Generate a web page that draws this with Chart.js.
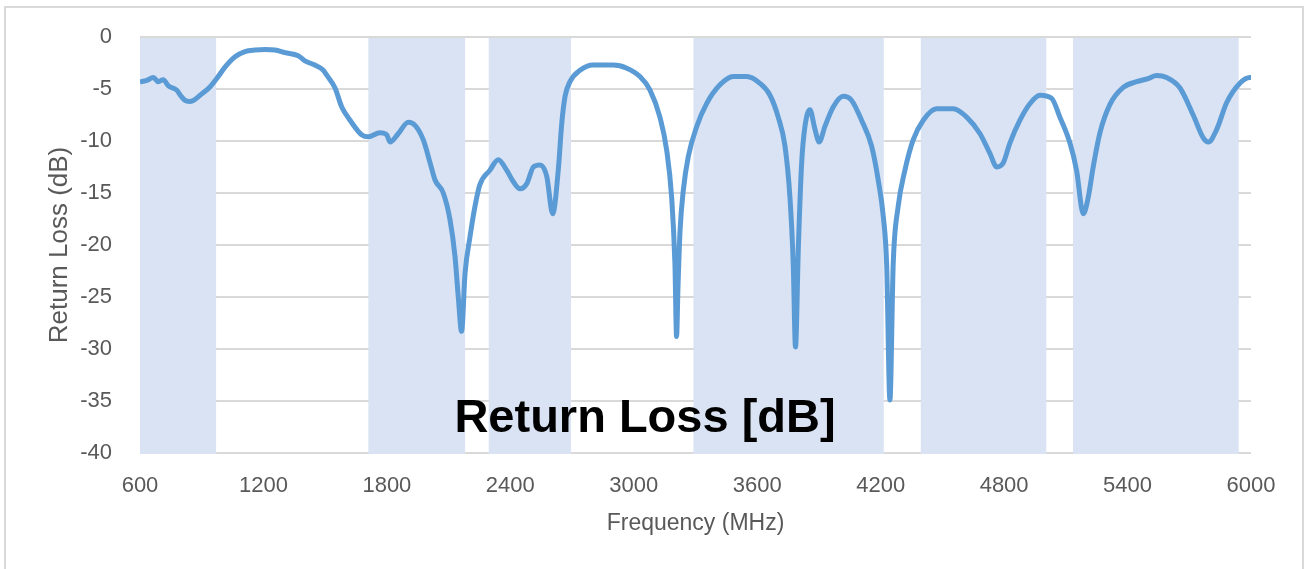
<!DOCTYPE html>
<html>
<head>
    <meta charset="utf-8">
    <script src="https://cdn.jsdelivr.net/npm/chart.js@4"></script>
    <style>
        body { margin: 0; background: #fff; }
    </style>
</head>
<body>
<canvas id="myChart" width="1308" height="569"></canvas>

<script>
    // frequency points (MHz) and return loss (dB)
    var freq = [600, 630, 665, 689, 713, 738, 778, 800, 819, 840, 859, 892, 940, 973, 1013, 1062, 1110, 1159, 1210, 1256,
        1305, 1369, 1402, 1450, 1491, 1507, 1548, 1580, 1621, 1677, 1710, 1766, 1799, 1815, 1855, 1904, 1937, 1977,
        2010, 2034, 2074, 2107, 2131, 2147, 2163, 2180, 2204, 2228, 2252, 2301, 2341, 2382, 2414, 2447, 2480, 2512,
        2544, 2577, 2606, 2633, 2650, 2666, 2690, 2739, 2803, 2901, 2966, 3030, 3079, 3127, 3160, 3184, 3200, 3208,
        3215, 3225, 3241, 3265, 3306, 3354, 3419, 3484, 3549, 3613, 3662, 3702, 3735, 3759, 3775, 3786, 3800, 3816,
        3832, 3856, 3881, 3901, 3929, 3970, 4018, 4059, 4107, 4156, 4188, 4213, 4229, 4245, 4261, 4285, 4318, 4358,
        4407, 4472, 4553, 4618, 4683, 4731, 4764, 4796, 4828, 4877, 4926, 4974, 5031, 5071, 5120, 5152, 5185, 5209,
        5233, 5266, 5314, 5379, 5444, 5500, 5541, 5590, 5655, 5719, 5768, 5793, 5833, 5882, 5946, 5995, 6000];
    var returnLoss = [-4.3, -4.2, -3.9, -4.3, -4.1, -4.7, -5.1, -5.7, -6.1, -6.2, -6.1, -5.6, -4.8, -4.0, -2.9, -1.9, -1.4, -1.25, -1.2, -1.25,
        -1.5, -1.8, -2.3, -2.7, -3.2, -3.65, -4.9, -6.7, -8.0, -9.4, -9.6, -9.2, -9.4, -10.1, -9.3, -8.2, -8.5, -9.9,
        -12.1, -13.75, -15.0, -17.6, -21.1, -25.0, -28.3, -22.7, -19.2, -16.3, -14.2, -12.8, -11.8, -12.8, -13.9, -14.6, -14.1, -12.5,
        -12.3, -13.4, -17.0, -12.8, -8.3, -5.7, -4.3, -3.2, -2.7, -2.7, -3.0, -3.8, -5.1, -7.7, -10.9, -15.4, -21.8, -28.8,
        -24.0, -18.6, -14.7, -11.5, -8.6, -6.4, -4.6, -3.8, -3.8, -4.45, -5.6, -7.7, -10.5, -15.4, -21.8, -29.8, -20.2, -12.1,
        -8.6, -7.0, -8.9, -10.1, -8.6, -6.7, -5.7, -6.1, -8.0, -10.5, -13.75, -17.3, -21.8, -34.9, -21.8, -16.3, -12.8, -9.9,
        -8.0, -6.9, -6.9, -7.7, -9.3, -11.2, -12.5, -12.1, -10.2, -8.0, -6.4, -5.6, -5.9, -7.7, -10.2, -12.8, -17.0, -15.4,
        -12.5, -9.2, -6.5, -4.85, -4.3, -4.0, -3.7, -3.9, -4.9, -7.5, -9.7, -10.1, -8.9, -6.3, -4.45, -3.9, -3.9];

    // shaded frequency bands (MHz)
    var bandStart = [600, 1710, 2295, 3290, 4395, 5135];
    var bandEnd = [970, 2180, 2695, 4215, 5005, 5940];

    var points = [];
    for (var i = 0; i < freq.length; i++) {
        points.push({x: freq[i], y: returnLoss[i]});
    }

    var bandsPlugin = {
        id: 'bands',
        beforeDraw: function (chart) {
            var ctx = chart.ctx;
            ctx.save();
            ctx.strokeStyle = '#d9d9d9';
            ctx.lineWidth = 2;
            ctx.strokeRect(5, 7, 1298, 620);
            ctx.restore();
        },
        beforeDatasetsDraw: function (chart) {
            var ctx = chart.ctx;
            var xs = chart.scales.x;
            var area = chart.chartArea;
            ctx.save();
            ctx.fillStyle = '#dae3f3';
            for (var i = 0; i < bandStart.length; i++) {
                var x0 = xs.getPixelForValue(bandStart[i]);
                var x1 = xs.getPixelForValue(bandEnd[i]);
                ctx.fillRect(x0, area.top + 1, x1 - x0, area.bottom - area.top);
            }
            ctx.restore();
        },
        afterDraw: function (chart) {
            var ctx = chart.ctx;
            ctx.save();
            ctx.fillStyle = '#000';
            ctx.font = 'bold 47px "Liberation Sans", Arial, sans-serif';
            ctx.textAlign = 'center';
            ctx.textBaseline = 'alphabetic';
            ctx.fillText('Return Loss [dB]', 645, 432);
            ctx.restore();
        }
    };

    var ctx = document.getElementById("myChart");
    var myChart = new Chart(ctx, {
        type: 'line',
        data: {
            datasets: [{
                data: points,
                borderColor: '#5b9bd5',
                borderWidth: 5,
                pointRadius: 0,
                fill: false,
                cubicInterpolationMode: 'monotone'
            }]
        },
        options: {
            responsive: false,
            animation: false,
            devicePixelRatio: 1,
            layout: {
                padding: {left: 0, top: 37, right: 57, bottom: 0}
            },
            plugins: {
                legend: {display: false},
                tooltip: {enabled: false}
            },
            scales: {
                x: {
                    type: 'linear',
                    min: 600,
                    max: 6000,
                    grid: {display: false},
                    border: {display: false},
                    ticks: {
                        stepSize: 600,
                        padding: 12,
                        color: '#595959',
                        font: {family: '"Liberation Sans", Arial, sans-serif', size: 22},
                        callback: function (value) { return String(value); }
                    },
                    title: {
                        display: true,
                        text: 'Frequency (MHz)',
                        color: '#595959',
                        padding: {top: 0, bottom: 32},
                        font: {family: '"Liberation Sans", Arial, sans-serif', size: 23}
                    },
                    afterFit: function (scale) {
                        scale.height = 116;
                        scale.paddingLeft = 0;
                        scale.paddingRight = 0;
                    }
                },
                y: {
                    min: -40,
                    max: 0,
                    grid: {color: '#d9d9d9', lineWidth: 2, drawTicks: false},
                    border: {display: false},
                    ticks: {
                        stepSize: 5,
                        padding: 28,
                        color: '#595959',
                        font: {family: '"Liberation Sans", Arial, sans-serif', size: 22}
                    },
                    title: {
                        display: true,
                        text: 'Return Loss (dB)',
                        color: '#595959',
                        padding: {top: 44, bottom: 0},
                        font: {family: '"Liberation Sans", Arial, sans-serif', size: 26}
                    },
                    afterFit: function (scale) {
                        scale.width = 140;
                        scale.paddingTop = 0;
                        scale.paddingBottom = 0;
                    }
                }
            }
        },
        plugins: [bandsPlugin]
    });
</script>
</body>
</html>
